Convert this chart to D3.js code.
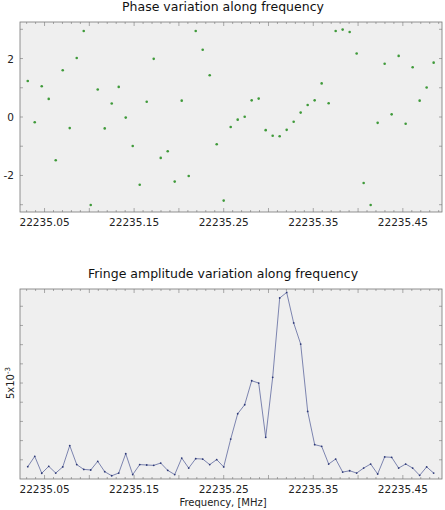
<!DOCTYPE html>
<html>
<head>
<meta charset="utf-8">
<script src="https://cdn.jsdelivr.net/npm/d3@7"></script>
<style>
  body { margin: 0; background: #fff; }
  svg { display: block; font-family: "DejaVu Sans", sans-serif; }
</style>
</head>
<body>
<script>
// channel frequencies, MHz
const freqs = [
  22235.03125, 22235.0390625, 22235.046875, 22235.0546875, 22235.0625, 22235.0703125,
  22235.078125, 22235.0859375, 22235.09375, 22235.1015625, 22235.109375, 22235.1171875,
  22235.125, 22235.1328125, 22235.140625, 22235.1484375, 22235.15625, 22235.1640625,
  22235.171875, 22235.1796875, 22235.1875, 22235.1953125, 22235.203125, 22235.2109375,
  22235.21875, 22235.2265625, 22235.234375, 22235.2421875, 22235.25, 22235.2578125,
  22235.265625, 22235.2734375, 22235.28125, 22235.2890625, 22235.296875, 22235.3046875,
  22235.3125, 22235.3203125, 22235.328125, 22235.3359375, 22235.34375, 22235.3515625,
  22235.359375, 22235.3671875, 22235.375, 22235.3828125, 22235.390625, 22235.3984375,
  22235.40625, 22235.4140625, 22235.421875, 22235.4296875, 22235.4375, 22235.4453125,
  22235.453125, 22235.4609375, 22235.46875, 22235.4765625, 22235.484375
];
// phase, radians
const phase = [
  1.23, -0.18, 1.05, 0.62, -1.48, 1.60, -0.38, 2.02, 2.94, -3.01,
  0.94, -0.39, 0.46, 1.03, -0.02, -0.99, -2.32, 0.52, 1.99, -1.40,
  -1.17, -2.21, 0.56, -2.02, 2.94, 2.30, 1.43, -0.93, -2.86, -0.34,
  -0.09, 0.01, 0.57, 0.63, -0.45, -0.64, -0.66, -0.44, -0.16, 0.15,
  0.41, 0.57, 1.15, 0.47, 2.94, 2.99, 2.91, 2.17, -2.26, -3.01,
  -0.20, 1.82, 0.09, 2.09, -0.23, 1.70, 0.56, 1.01, 1.86
];
// fringe amplitude, units of 1e-3
const amp = [
  0.64, 1.18, 0.30, 0.66, 0.31, 0.63, 1.74, 0.75, 0.50, 0.47,
  0.92, 0.38, 0.17, 0.31, 1.32, 0.23, 0.75, 0.73, 0.71, 0.83,
  0.45, 0.23, 1.09, 0.57, 1.06, 1.04, 0.75, 1.01, 0.63, 2.08,
  3.40, 3.87, 5.12, 5.00, 2.17, 5.30, 9.43, 9.72, 8.13, 7.03,
  3.52, 1.79, 1.70, 0.78, 1.04, 0.36, 0.43, 0.31, 0.57, 0.78,
  0.26, 1.15, 1.13, 0.57, 0.78, 0.57, 0.19, 0.63, 0.31
];
const xTickLabels = [22235.05, 22235.15, 22235.25, 22235.35, 22235.45];
const phaseTicks = [-2, 0, 2];

const W = 445, H = 510;
const left = 20, right = 442;
const top1 = 22, bot1 = 212;
const top2 = 289, bot2 = 479;

const svg = d3.select("body").append("svg").attr("width", W).attr("height", H);

const x = d3.scaleLinear().domain([22235.0226, 22235.4937]).range([left, right]);
const yP = d3.scaleLinear().domain([-3.25, 3.25]).range([bot1, top1]);
const yA = d3.scaleLinear().domain([0, 9.9]).range([bot2, top2]);

function frame(y0, y1, yScale, yMinor) {
  const g = svg.append("g");
  g.append("rect")
    .attr("x", left).attr("y", y0)
    .attr("width", right - left).attr("height", y1 - y0)
    .attr("fill", "#efefef");

  // inward ticks on all four sides
  const minor = d3.range(22235.03, 22235.495, 0.01);
  const isMajor = (v) => Math.abs(Math.round(v * 20) - v * 20) < 1e-6;
  minor.forEach((v) => {
    const len = isMajor(v) ? 4 : 2;
    g.append("line").attr("x1", x(v)).attr("x2", x(v))
      .attr("y1", y1).attr("y2", y1 - len);
    g.append("line").attr("x1", x(v)).attr("x2", x(v))
      .attr("y1", y0).attr("y2", y0 + len);
  });
  yMinor.forEach((v) => {
    g.append("line").attr("x1", left).attr("x2", left + 3)
      .attr("y1", yScale(v)).attr("y2", yScale(v));
    g.append("line").attr("x1", right).attr("x2", right - 3)
      .attr("y1", yScale(v)).attr("y2", yScale(v));
  });
  g.selectAll("line").attr("stroke", "#777").attr("stroke-width", 0.6);

  g.append("rect")
    .attr("x", left).attr("y", y0)
    .attr("width", right - left).attr("height", y1 - y0)
    .attr("fill", "none").attr("stroke", "#777").attr("stroke-width", 0.8);

  // x tick labels
  g.selectAll("text.xl")
    .data(xTickLabels)
    .enter()
    .append("text")
    .attr("x", (d) => x(d))
    .attr("y", y1 + 14)
    .attr("text-anchor", "middle")
    .attr("font-size", 10.5)
    .attr("fill", "#222")
    .text((d) => d.toFixed(2));
  return g;
}

// ---- phase plot
frame(top1, bot1, yP, [-3, -2, -1, 0, 1, 2, 3]);

svg.append("text")
  .attr("x", 223).attr("y", 11)
  .attr("text-anchor", "middle")
  .attr("font-size", 12.5)
  .attr("fill", "#111")
  .text("Phase variation along frequency");

svg.selectAll("text.yl")
  .data(phaseTicks)
  .enter()
  .append("text")
  .attr("x", 14)
  .attr("y", (d) => yP(d) + 4)
  .attr("text-anchor", "end")
  .attr("font-size", 10.5)
  .attr("fill", "#222")
  .text((d) => (d < 0 ? "-" + Math.abs(d) : d));

svg.append("g")
  .selectAll("circle")
  .data(freqs)
  .enter()
  .append("circle")
  .attr("cx", (d) => x(d))
  .attr("cy", (d, i) => yP(phase[i]))
  .attr("r", 1.3)
  .attr("fill", "#3f9a3a");

// ---- amplitude plot
frame(top2, bot2, yA, d3.range(1, 10));

svg.append("text")
  .attr("x", 223).attr("y", 278)
  .attr("text-anchor", "middle")
  .attr("font-size", 12.5)
  .attr("fill", "#111")
  .text("Fringe amplitude variation along frequency");

const yl = svg.append("text")
  .attr("transform", `translate(14, ${yA(5)}) rotate(-90)`)
  .attr("text-anchor", "middle")
  .attr("font-size", 10)
  .attr("fill", "#222");
yl.append("tspan").text("5x10");
yl.append("tspan").attr("dy", -4).attr("font-size", 7).text("-3");

svg.append("text")
  .attr("x", 223).attr("y", 506)
  .attr("text-anchor", "middle")
  .attr("font-size", 10)
  .attr("fill", "#222")
  .text("Frequency, [MHz]");

const line = d3.line()
  .x((d) => x(d))
  .y((d, i) => yA(amp[i]));

svg.append("path")
  .datum(freqs)
  .attr("d", line)
  .attr("fill", "none")
  .attr("stroke", "#4a5694")
  .attr("stroke-width", 0.7);

svg.append("g")
  .selectAll("circle")
  .data(freqs)
  .enter()
  .append("circle")
  .attr("cx", (d) => x(d))
  .attr("cy", (d, i) => yA(amp[i]))
  .attr("r", 0.9)
  .attr("fill", "#2e3a78");
</script>
</body>
</html>
